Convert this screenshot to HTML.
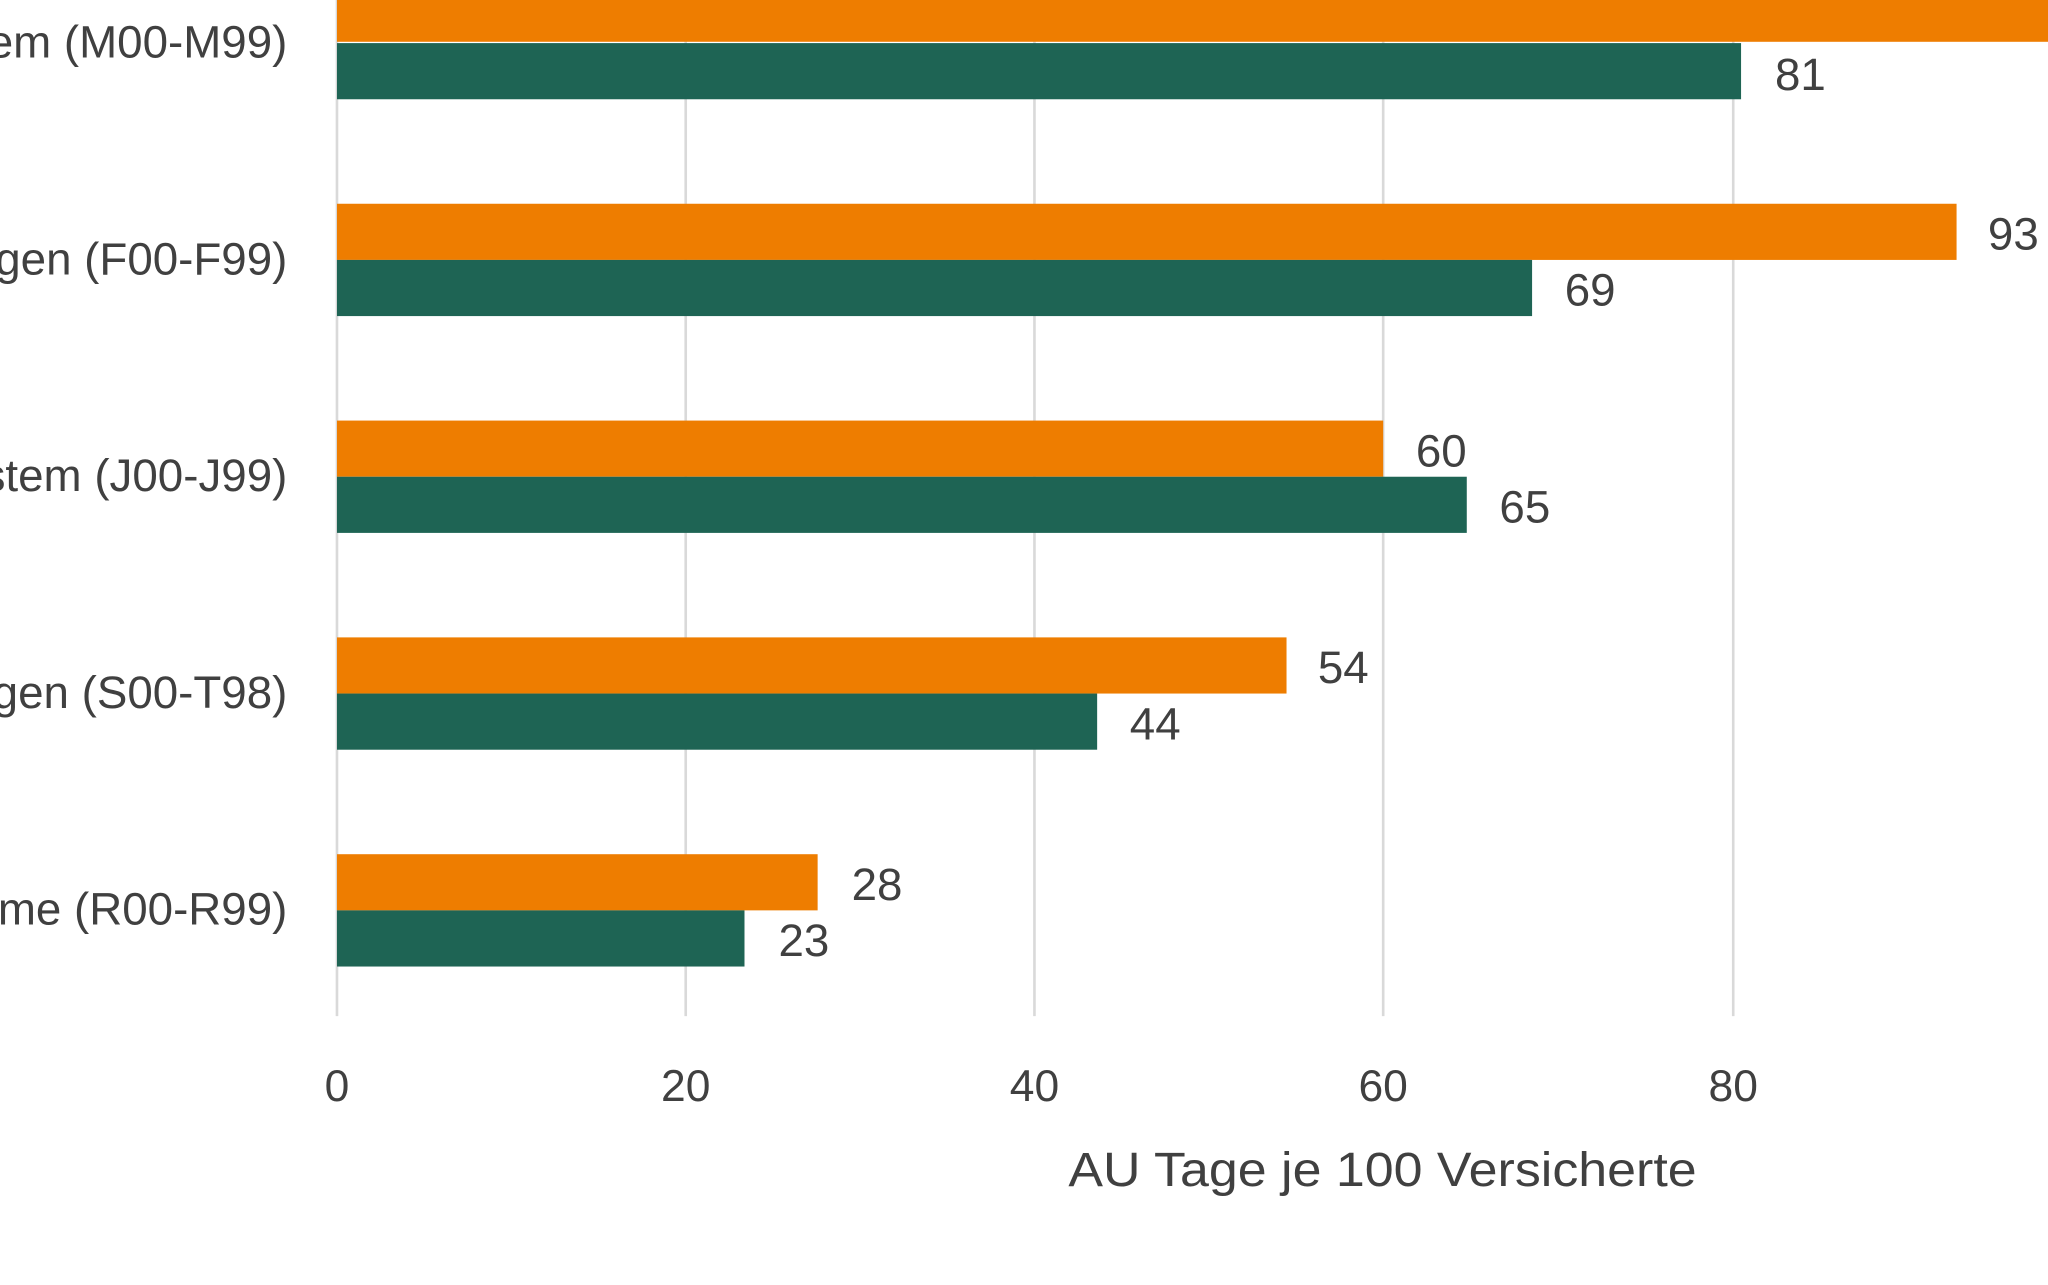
<!DOCTYPE html>
<html><head><meta charset="utf-8"><style>html,body{margin:0;padding:0;background:#fff;overflow:hidden}</style></head>
<body>
<svg width="2048" height="1280" viewBox="0 0 1568 980" preserveAspectRatio="none" xmlns="http://www.w3.org/2000/svg" font-family="Liberation Sans, sans-serif" fill="#404040">
<rect width="1568" height="980" fill="#fff"/>
<g stroke="#d9d9d9" stroke-width="2">
<line x1="525" y1="0" x2="525" y2="778"/>
<line x1="792" y1="0" x2="792" y2="778"/>
<line x1="1059" y1="0" x2="1059" y2="778"/>
<line x1="1327" y1="0" x2="1327" y2="778"/>
<line x1="258" y1="0" x2="258" y2="778"/>
</g>
<g fill="#EE7D00">
<rect x="258" y="-12" width="1320" height="44"/>
<rect x="258" y="156" width="1240" height="43"/>
<rect x="258" y="322" width="801" height="43"/>
<rect x="258" y="488" width="727" height="43"/>
<rect x="258" y="654" width="368" height="43"/>
</g>
<g fill="#1E6454">
<rect x="258" y="33" width="1075" height="43"/>
<rect x="258" y="199" width="915" height="43"/>
<rect x="258" y="365" width="865" height="43"/>
<rect x="258" y="531" width="582" height="43"/>
<rect x="258" y="697" width="312" height="43"/>
</g>
<g font-size="35">
<text x="1359" y="69">81</text>
<text x="1522" y="191">93</text>
<text x="1198" y="234">69</text>
<text x="1084" y="357">60</text>
<text x="1148" y="400">65</text>
<text x="1009" y="523">54</text>
<text x="865" y="566">44</text>
<text x="652" y="689">28</text>
<text x="596" y="732">23</text>
</g>
<g font-size="35" text-anchor="end">
<text x="220" y="44">Muskel-Skelett-System (M00-M99)</text>
<text x="220" y="210">Psychische Verhaltensstörungen (F00-F99)</text>
<text x="220" y="376">Atmungssystem (J00-J99)</text>
<text x="220" y="542">Verletzungen und Vergiftungen (S00-T98)</text>
<text x="220" y="708">Symptome (R00-R99)</text>
</g>
<g font-size="34" text-anchor="middle">
<text x="258" y="843">0</text>
<text x="525" y="843">20</text>
<text x="792" y="843">40</text>
<text x="1059" y="843">60</text>
<text x="1327" y="843">80</text>
</g>
<text x="818" y="908" font-size="37" textLength="481" lengthAdjust="spacingAndGlyphs">AU Tage je 100 Versicherte</text>
</svg>
</body></html>
